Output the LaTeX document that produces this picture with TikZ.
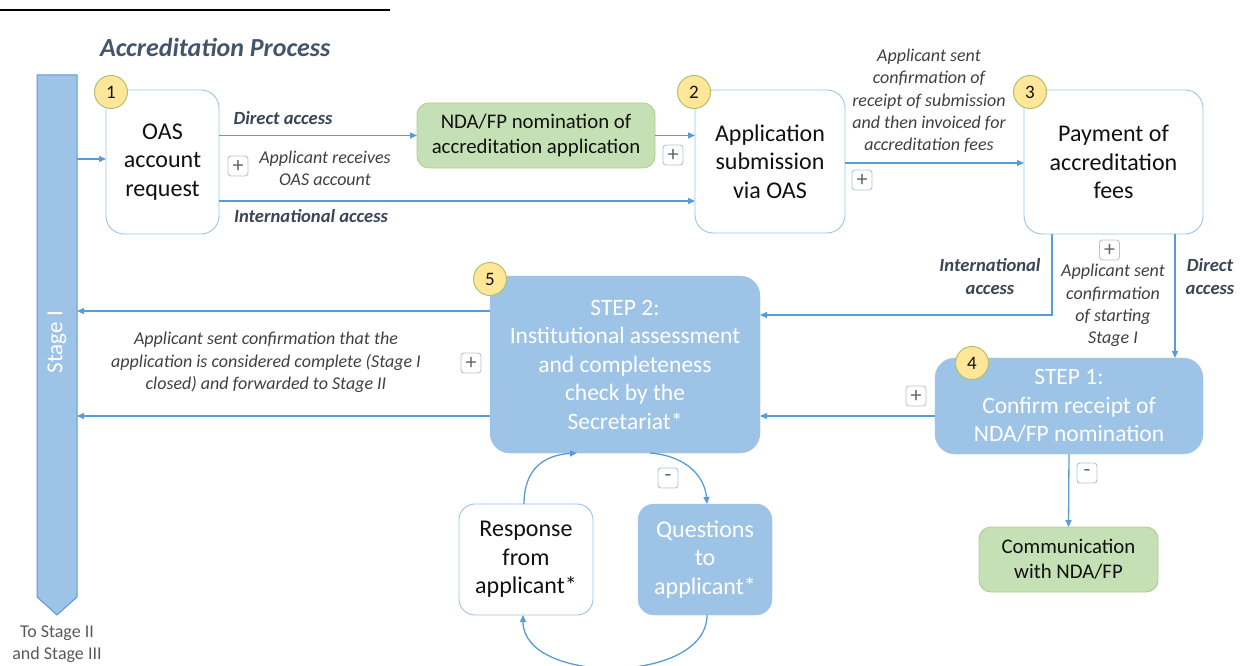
\documentclass[tikz,border=0pt]{standalone}
\usepackage{fontspec}
\setmainfont{Carlito}
\usetikzlibrary{arrows.meta,calc}
\definecolor{lineblue}{HTML}{5B9BD5}
\definecolor{boxedge}{HTML}{9DC3E6}
\definecolor{stepfill}{HTML}{9DC3E6}
\definecolor{greenfill}{HTML}{C5E0B4}
\definecolor{greenedge}{HTML}{A9D18E}
\definecolor{circfill}{HTML}{FFE699}
\definecolor{circedge}{HTML}{A9C46A}
\definecolor{labelgray}{HTML}{404040}
\definecolor{boldlab}{HTML}{3A4556}
\definecolor{titlecol}{HTML}{44546A}
\definecolor{txtdark}{HTML}{111111}
\definecolor{graytxt}{HTML}{595959}
\definecolor{pmedge}{HTML}{B4C3D3}
\definecolor{pmtext}{HTML}{666666}
\begin{document}
\begin{tikzpicture}[x=1pt,y=-1pt,
  every node/.style={inner sep=0pt, outer sep=0pt},
  bigtxt/.style={font=\fontsize{24}{28.5}\selectfont, align=center},
  steptxt/.style={font=\fontsize{23.5}{28.5}\selectfont, align=center},
  midtxt/.style={font=\fontsize{20.8}{25}\selectfont, align=center},
  wbox/.style={bigtxt, text=txtdark, draw=boxedge, line width=0.9pt, fill=white, rounded corners=18pt},
  sbox/.style={steptxt, text=white, draw=stepfill, fill=stepfill, rounded corners=20pt},
  gbox/.style={midtxt, text=txtdark, draw=greenedge, line width=0.9pt, fill=greenfill, rounded corners=12pt},
  num/.style={circle, minimum size=33pt, fill=circfill, draw=circedge, line width=1pt, font=\fontsize{19}{19}\selectfont, text=txtdark},
  pm/.style={draw=pmedge, line width=0.9pt, fill=white, rounded corners=3pt, minimum width=20pt, minimum height=20pt, font=\fontsize{22}{22}\selectfont, text=pmtext},
  itl/.style={font=\fontsize{18}{22.3}\selectfont\itshape, text=labelgray, align=center},
  bil/.style={font=\fontsize{18.6}{23}\selectfont\bfseries\itshape, text=boldlab, align=center},
  conn/.style={draw=lineblue, line width=1.3pt, -{Triangle[length=7pt,width=6pt]}},
  barstyle/.style={draw=lineblue, line width=1pt, fill=stepfill}
]
\useasboundingbox (0,0) rectangle (1243,666);

% top rule and title
\draw[line width=1.6pt, black] (0,10) -- (390,10);
\node[font=\fontsize{26}{30}\selectfont\bfseries\itshape, text=titlecol, anchor=west] (title) at (100,47) {Accreditation Process};

% stage bar
\draw[barstyle] (37,75) -- (77,75) -- (77,597) -- (57,615) -- (37,597) -- cycle;
\coordinate (barE) at (77,336);
\node[rotate=90, font=\fontsize{23}{28}\selectfont, text=white] (stagetxt) at (57,342) {Stage I};
\node[font=\fontsize{18}{22}\selectfont, text=graytxt, align=center] (tostage) at (57,644) {To Stage II\\and Stage III};

% boxes
\node[wbox, minimum width=113pt, minimum height=144pt] (box1) at (162.5,162) {OAS\\account\\request};
\node[wbox, minimum width=150pt, minimum height=143pt] (box2) at (770,161.5) {Application\\submission\\via OAS};
\node[wbox, minimum width=179pt, minimum height=144pt] (box3) at (1113.5,162) {Payment of\\accreditation\\fees};
\node[gbox, minimum width=238pt, minimum height=65pt] (nda) at (536,135.5) {NDA/FP nomination of\\accreditation application};
\node[sbox, minimum width=268pt, minimum height=96pt] (step1) at (1069,406) {STEP 1:\\Confirm receipt of\\NDA/FP nomination};
\node[sbox, minimum width=270pt, minimum height=177pt] (step2) at (625,364.5) {STEP 2:\\Institutional assessment\\and completeness\\check by the\\Secretariat*};
\node[gbox, minimum width=179pt, minimum height=65pt] (comm) at (1068.5,559.5) {Communication\\with NDA/FP};
\node[wbox, minimum width=134pt, minimum height=111pt, rounded corners=16pt] (resp) at (526,559.5) {Response\\from\\applicant*};
\node[sbox, font=\fontsize{24}{28.5}\selectfont, minimum width=134pt, minimum height=111pt, rounded corners=16pt] (quest) at (705,559.5) {Questions\\to\\applicant*};

% number circles
\node[num] (n1) at (111,92) {1};
\node[num] (n2) at (694,92) {2};
\node[num] (n3) at (1030,92) {3};
\node[num] (n4) at (972,363) {4};
\node[num] (n5) at (490,279) {5};

% connectors
\coordinate (b1in) at ([yshift=3pt]box1.west);
\draw[conn] (barE |- b1in) -- (b1in);
\draw[conn] (box1.east |- nda.west) -- (nda.west);
\coordinate (ia) at ([yshift=-39pt]box1.east);
\draw[conn] (ia) -- (box2.west |- ia);
\draw[conn] (nda.east) -- (box2.west |- nda.east);
\coordinate (b2out) at ([yshift=-1.5pt]box2.east);
\draw[conn] (b2out) -- (box3.west |- b2out);
\coordinate (ia3) at ([xshift=-61.5pt]box3.south);
\coordinate (s2in1) at ([yshift=49.5pt]step2.east);
\draw[conn] (ia3) |- (s2in1);
\coordinate (da3) at ([xshift=61.5pt]box3.south);
\draw[conn] (da3) -- (step1.north -| da3);
\coordinate (s1out) at ([yshift=-10pt]step1.west);
\draw[conn] (s1out) -- (step2.east |- s1out);
\draw[conn] (step1.south) -- (comm.north);
\coordinate (s2o1) at ([yshift=53.5pt]step2.west);
\draw[conn] (s2o1) -- (barE |- s2o1);
\coordinate (s2o2) at ([yshift=-51.5pt]step2.west);
\draw[conn] (s2o2) -- (barE |- s2o2);

% loop
\coordinate (s2q) at ([xshift=25pt]step2.south);
\draw[conn] (s2q) .. controls (688,456) and (705,478) .. ([xshift=2pt]quest.north);
\draw[conn] ([xshift=2pt]quest.south) .. controls (707,685) and (523,685) .. ([xshift=-3pt]resp.south);
\coordinate (s2r) at ([xshift=-48pt]step2.south);
\draw[conn] ([xshift=-2pt]resp.north) .. controls (524,468) and (545,455) .. (s2r);

% labels
\node[bil] (lda) at (283,118) {Direct access};
\node[itl] (lrec) at (325,168) {Applicant receives\\OAS account};
\node[bil] (lia) at (311,216) {International access};
\node[itl] (lsub) at (929,101) {Applicant sent\\confirmation of\\receipt of submission\\and then invoiced for\\accreditation fees};
\node[bil] (lia2) at (990,276.5) {International\\access};
\node[bil] (lda2) at (1210,276.5) {Direct\\access};
\node[itl] (lstart) at (1113,305.5) {Applicant sent\\confirmation\\of starting\\Stage I};
\node[itl] (lcomp) at (266,362.5) {Applicant sent confirmation that the\\application is considered complete (Stage I\\closed) and forwarded to Stage II};

% plus / minus markers
\node[pm] (pm1) at (238,166) {+};
\node[pm] (pm2) at (673,155) {+};
\node[pm] (pm3) at (862,180) {+};
\node[pm] (pm4) at (1109.5,250) {+};
\node[pm] (pm5) at (916,396) {+};
\node[pm] (pm6) at (471,363) {+};
\node[pm] (pm7) at (1087,473) {-};
\node[pm] (pm8) at (668,478) {-};
\end{tikzpicture}
\end{document}
